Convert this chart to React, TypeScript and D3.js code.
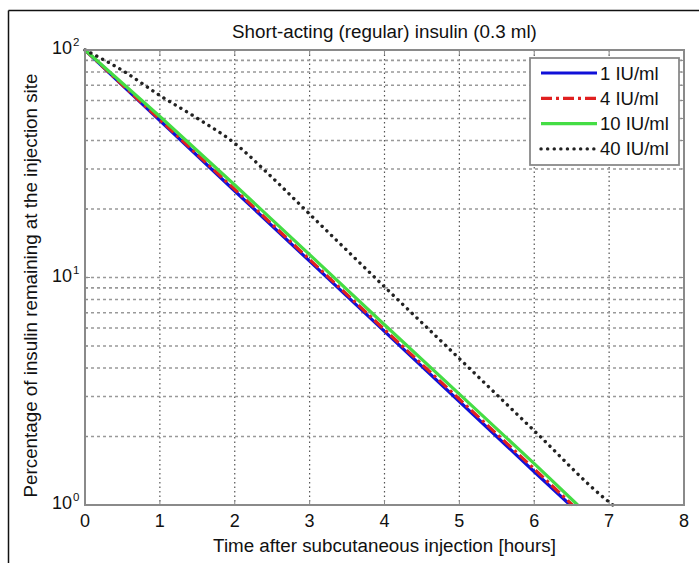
import React from "react";
import * as d3 from "d3";

const title = "Short-acting (regular) insulin (0.3 ml)";
const xLabel = "Time after subcutaneous injection [hours]";
const yLabel = "Percentage of insulin remaining at the injection site";
const xTicks = [0, 1, 2, 3, 4, 5, 6, 7, 8];
const yMajor = [1, 10, 100];
const yExp = ["0", "1", "2"];

const names = ["1 IU/ml", "4 IU/ml", "10 IU/ml", "40 IU/ml"];
const t1 = [0, 1, 2, 3, 4, 5, 6, 6.48];
const v1 = [100, 49.0, 24.0, 11.8, 5.8, 2.85, 1.4, 1.0];
const t4 = [0, 1, 2, 3, 4, 5, 6, 6.51];
const v4 = [100, 49.4, 24.4, 12.0, 5.9, 2.92, 1.44, 1.0];
const t10 = [0, 1, 2, 3, 4, 5, 6, 6.58];
const v10 = [100, 51.0, 25.5, 12.6, 6.2, 3.07, 1.52, 1.0];
const t40 = [0, 0.5, 1, 1.5, 2, 2.5, 3, 4, 5, 6, 7, 7.05];
const v40 = [100, 81.3, 63.1, 50.1, 38.9, 27.5, 19.0, 9.1, 4.4, 2.12, 1.03, 1.0];

const W = 699, H = 563;
const L = 85, R = 684, T = 50, B = 505;
const FONT = "'Liberation Sans', Arial, Helvetica, sans-serif";

export default function App() {
  const x = d3.scaleLinear().domain([0, 8]).range([L, R]);
  const y = d3.scaleLog().domain([1, 100]).range([B, T]);
  const line = d3.line<[number, number]>().x(d => x(d[0])).y(d => y(d[1]));
  const smooth = d3.line<[number, number]>().x(d => x(d[0])).y(d => y(d[1])).curve(d3.curveMonotoneX);

  const series = [
    { t: t1, v: v1, color: "#1010d8", dash: undefined, width: 3.2, cap: "butt", gen: line },
    { t: t4, v: v4, color: "#e02020", dash: "11 4 3 4", width: 3.2, cap: "butt", gen: line },
    { t: t10, v: v10, color: "#44dd44", dash: undefined, width: 3.2, cap: "butt", gen: line },
    { t: t40, v: v40, color: "#222222", dash: "0.1 6.5", width: 3.4, cap: "round", gen: smooth },
  ];

  const minor: number[] = [];
  [1, 10].forEach(b => { for (let k = 2; k <= 9; k++) minor.push(b * k); });

  const axisColor = "#8a8a8a";

  return (
    <svg width={W} height={H} style={{ position: "absolute", left: 0, top: 0, background: "#fff" }}>
      <rect x={0} y={0} width={W} height={H} fill="#fff" />
      {/* outer frame */}
      <line x1={8.5} y1={10.5} x2={W + 2} y2={10.5} stroke="#111" strokeWidth={1.5} />
      <line x1={8.5} y1={10.5} x2={8.5} y2={H + 2} stroke="#111" strokeWidth={1.5} />

      <text x={(L + R) / 2} y={38} textAnchor="middle" fontFamily={FONT} fontSize={18.8} fill="#111">{title}</text>

      {/* grid */}
      <g>
        {xTicks.slice(1, -1).map(t => (
          <line key={"gx" + t} x1={x(t)} x2={x(t)} y1={T} y2={B} stroke="#555" strokeWidth={1.2} strokeDasharray="1.5 3" />
        ))}
        {[...minor, 10].map(v => (
          <line key={"gy" + v} x1={L} x2={R} y1={y(v)} y2={y(v)} stroke="#999" strokeWidth={1.6} strokeDasharray="3 3" />
        ))}
      </g>

      {/* ticks */}
      <g stroke={axisColor} strokeWidth={1}>
        {xTicks.map(t => (
          <g key={"tx" + t}>
            <line x1={x(t)} x2={x(t)} y1={B} y2={B - 5} />
            <line x1={x(t)} x2={x(t)} y1={T} y2={T + 5} />
          </g>
        ))}
        {[...minor, ...yMajor].map(v => {
          const len = yMajor.includes(v) ? 5 : 3;
          return (
            <g key={"ty" + v}>
              <line x1={L} x2={L + len} y1={y(v)} y2={y(v)} />
              <line x1={R} x2={R - len} y1={y(v)} y2={y(v)} />
            </g>
          );
        })}
      </g>

      {/* data */}
      <g fill="none">
        {series.map((s, i) => (
          <path key={i} d={s.gen(s.t.map((t, j) => [t, s.v[j]] as [number, number])) || ""}
            stroke={s.color} strokeWidth={s.width} strokeDasharray={s.dash} strokeLinecap={s.cap as any} />
        ))}
      </g>

      {/* axes box */}
      <rect x={L} y={T} width={R - L} height={B - T} fill="none" stroke={axisColor} strokeWidth={2} />

      {/* tick labels */}
      <g fontFamily={FONT} fontSize={18} fill="#111">
        {xTicks.map(t => (
          <text key={"lx" + t} x={x(t)} y={527} textAnchor="middle">{t}</text>
        ))}
        {yMajor.map((v, i) => (
          <text key={"ly" + v} x={72} y={y(v) + 4} textAnchor="end">10</text>
        ))}
        {yMajor.map((v, i) => (
          <text key={"le" + v} x={73} y={y(v) - 4} fontSize={11.5} textAnchor="start">{yExp[i]}</text>
        ))}
      </g>

      <text x={(L + R) / 2} y={552} textAnchor="middle" fontFamily={FONT} fontSize={18.8} fill="#111">{xLabel}</text>
      <text transform={`translate(37,${(T + B) / 2 + 8}) rotate(-90)`} textAnchor="middle" fontFamily={FONT} fontSize={18.8} fill="#111">{yLabel}</text>

      {/* legend */}
      <g>
        <rect x={530} y={58} width={149} height={107} fill="#fff" stroke={axisColor} strokeWidth={1.8} />
        {series.map((s, i) => {
          const ly = 73 + i * 25.3;
          return (
            <g key={"lg" + i}>
              <line x1={541} x2={597} y1={ly} y2={ly} stroke={s.color} strokeWidth={s.width}
                strokeDasharray={s.dash} strokeLinecap={s.cap as any} />
              <text x={600} y={ly + 6.5} fontFamily={FONT} fontSize={18.5} fill="#111">{names[i]}</text>
            </g>
          );
        })}
      </g>
    </svg>
  );
}
